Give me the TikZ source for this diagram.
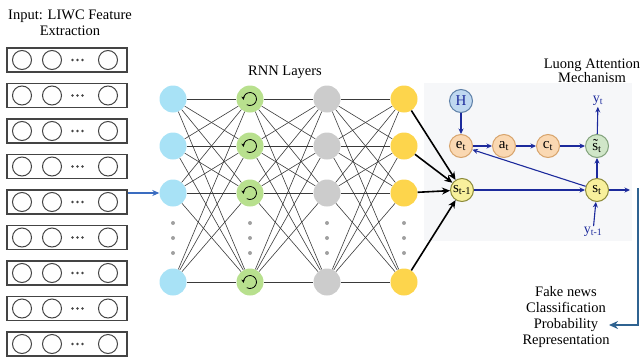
\documentclass[tikz,border=0pt]{standalone}
\usepackage{fontspec}
\setmainfont{Liberation Serif}
\usetikzlibrary{arrows.meta}

\definecolor{boxgray}{HTML}{444444}
\definecolor{linkgray}{HTML}{3A3A3A}
\definecolor{dotgray}{HTML}{A0A0A0}
\definecolor{nblue}{HTML}{A8E2F6}
\definecolor{ngreen}{HTML}{B8E08E}
\definecolor{ngray}{HTML}{CCCCCC}
\definecolor{nyellow}{HTML}{FDD54C}
\definecolor{inblue}{HTML}{3A6CC0}
\definecolor{panelgray}{HTML}{F6F7F9}
\definecolor{navy}{HTML}{1C2A9C}
\definecolor{outblue}{HTML}{2F6391}
\definecolor{hfill}{HTML}{BFD8F0}
\definecolor{hdraw}{HTML}{5E80A8}
\definecolor{ofill}{HTML}{FAD8B2}
\definecolor{odraw}{HTML}{D7A46C}
\definecolor{gfill}{HTML}{D0E6C8}
\definecolor{gdraw}{HTML}{82A27C}
\definecolor{yfill}{HTML}{F8F09C}
\definecolor{ydraw}{HTML}{8C8A3A}

\begin{document}
\begin{tikzpicture}[x=1pt,y=-1pt,
  font=\fontsize{14.5}{16}\selectfont,
  inbox/.style={draw=boxgray, line width=1.2pt, minimum width=120pt, minimum height=24pt, inner sep=0pt},
  incirc/.style={circle, draw=boxgray, line width=1pt, minimum size=19pt, inner sep=0pt},
  indot/.style={circle, fill=boxgray, minimum size=2.6pt, inner sep=0pt},
  neuron/.style={circle, minimum size=27pt, inner sep=0pt},
  layerdot/.style={circle, fill=dotgray, minimum size=4pt, inner sep=0pt},
  link/.style={draw=linkgray, line width=0.6pt},
  loopline/.style={draw=black, line width=0.8pt, -{Stealth[length=3.5pt,width=3.5pt]}},
  feed/.style={draw=black, line width=1.6pt, -{Stealth[length=8pt,width=7pt]}},
  att/.style={circle, line width=1pt, minimum size=23pt, inner sep=0pt, font=\fontsize{15}{15}\selectfont},
  attarrow/.style={draw=navy, line width=1.1pt, -{Stealth[length=5.5pt,width=5pt]}},
  ylabel/.style={text=navy, inner sep=1pt, font=\fontsize{14}{14}\selectfont}
]
\useasboundingbox (0,0) rectangle (644,356);

% attention panel backdrop
\fill[panelgray] (424,83) rectangle (632,241);

% titles
\node[align=center] (tin) at (70,23) {Input: LIWC Feature\\Extraction};
\node (trnn) at (285,72) {RNN Layers};
\node[align=center, font=\fontsize{14.5}{12}\selectfont] (tatt) at (592,71) {Luong Attention\\Mechanism};

% input feature rows
\foreach \i in {1,...,9} {
  \pgfmathsetmacro{\yy}{60+35.5*(\i-1)}
  \node[inbox] (in\i) at (67,\yy) {};
  \node[incirc] (in\i a) at (22,\yy) {};
  \node[incirc] (in\i b) at (52,\yy) {};
  \node[incirc] (in\i c) at (108,\yy) {};
  \node[indot] (in\i d1) at (72.5,\yy) {};
  \node[indot] (in\i d2) at (77.5,\yy) {};
  \node[indot] (in\i d3) at (82.5,\yy) {};
}

% RNN layers
\foreach \c/\xx/\col in {1/173/nblue,2/250/ngreen,3/327/ngray,4/404/nyellow} {
  \foreach \r/\yy in {1/99,2/146,3/193,4/282} {
    \node[neuron, fill=\col] (n-\c-\r) at (\xx,\yy) {};
  }
  \foreach \k/\yy in {1/223,2/238,3/253} {
    \node[layerdot] (d-\c-\k) at (\xx,\yy) {};
  }
}
\foreach \c/\cn in {1/2,2/3,3/4} {
  \foreach \i in {1,...,4} {
    \foreach \j in {1,...,4} {
      \draw[link] (n-\c-\i) -- (n-\cn-\j);
    }
  }
}
% recurrent loops
\foreach \r in {1,...,4} {
  \draw[loopline] ([shift={(240:6.5pt)}]n-2-\r.center) arc[start angle=240, end angle=548, radius=6.5pt];
}

% input arrow
\draw[draw=inblue, line width=1.3pt, -{Stealth[length=7pt,width=6pt]}] (in5.east |- n-1-3) -- (n-1-3);

% attention nodes
\node[att, fill=hfill, draw=hdraw, text=navy] (H) at (461,101) {H};
\node[att, fill=ofill, draw=odraw] (et) at (461,146) {e\textsubscript{t}};
\node[att, fill=ofill, draw=odraw] (at) at (504,146) {a\textsubscript{t}};
\node[att, fill=ofill, draw=odraw] (ct) at (548,146) {c\textsubscript{t}};
\node[att, fill=gfill, draw=gdraw] (stl) at (597,146) {\~{s}\textsubscript{t}};
\node[att, fill=yfill, draw=ydraw] (sp) at (462,190) {s\textsubscript{t-1}};
\node[att, fill=yfill, draw=ydraw] (st) at (597,190) {s\textsubscript{t}};
\node[ylabel] (yt) at (598,101) {y\textsubscript{t}};
\node[ylabel] (yp) at (593,232) {y\textsubscript{t-1}};
\coordinate (sout) at (630,190);

% yellow layer feeding the decoder state
\foreach \r in {1,...,4} {
  \draw[feed] (n-4-\r) -- (sp);
}

% attention flow
\draw[attarrow] (H) -- (et);
\draw[attarrow] (et) -- (at);
\draw[attarrow] (at) -- (ct);
\draw[attarrow] (ct) -- (stl);
\draw[attarrow] (stl) -- (yt);
\draw[attarrow] (st) -- (stl);
\draw[attarrow] (yp) -- (st);
\draw[attarrow] (sp) -- (st);
\draw[attarrow] (st) -- (et);
\draw[attarrow] (st) -- (sout);

% output
\node[align=center, font=\fontsize{14.5}{15.7}\selectfont] (out) at (566,317) {Fake news\\Classification\\Probability\\Representation};
\coordinate (fa) at (638,188);
\coordinate (fb) at (638,325);
\coordinate (fc) at (609,325);
\draw[draw=outblue, line width=1.8pt, -{Stealth[length=9pt,width=8pt]}] (fa) -- (fb) -- (fc);
\end{tikzpicture}
\end{document}
